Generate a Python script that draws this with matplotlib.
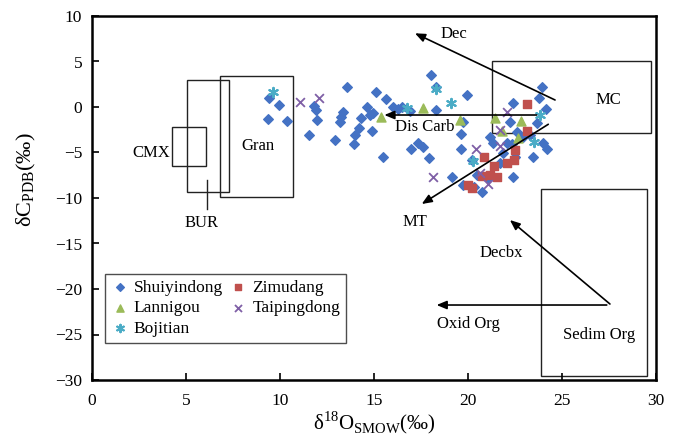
import matplotlib
matplotlib.use("Agg")
import matplotlib.pyplot as plt
from matplotlib.patches import Rectangle

plt.rcParams["font.family"] = ["Liberation Serif", "DejaVu Serif"]
plt.rcParams["mathtext.fontset"] = "custom"
plt.rcParams["mathtext.rm"] = "Liberation Serif"

# --- data (d18O SMOW, d13C PDB) ---
shui_x = [9.41, 9.96, 9.38, 10.36, 11.54, 11.81, 11.90, 11.98, 13.59, 13.34, 13.24, 13.19,
          12.93, 14.31, 14.22, 13.99, 13.94, 14.64, 14.79, 14.96, 14.88, 15.09, 15.64, 15.49,
          16.03, 16.47, 18.02, 18.28, 19.96, 18.30, 19.75, 19.63, 19.63, 16.97, 17.36, 17.59,
          17.94, 19.13, 19.75, 20.32, 20.73, 23.95, 23.79, 24.13, 23.65, 24.01, 24.19, 23.47,
          22.38, 22.23, 22.59, 22.94, 23.30, 22.32, 22.50, 22.38, 22.06, 21.85, 21.70, 21.35,
          21.17, 20.20, 20.46, 21.08, 16.30, 16.90]
shui_y = [0.96, 0.22, -1.29, -1.57, -3.13, 0.16, -0.33, -1.43, 2.16, -0.52, -1.07, -1.62,
          -3.63, -1.24, -2.34, -3.08, -4.12, 0.03, -0.88, -0.69, -2.60, 1.62, 0.88, -5.46,
          0.03, 0.03, 3.52, 2.23, 1.32, -0.33, -1.62, -2.97, -4.65, -4.65, -3.92, -4.43,
          -5.64, -7.66, -8.57, -8.76, -9.31, 2.16, 0.96, -0.25, -1.79, -3.92, -4.65, -5.53,
          0.47, -1.62, -2.71, -3.33, -3.08, -4.07, -5.46, -7.66, -3.92, -5.02, -6.19, -3.99,
          -3.26, -5.82, -7.47, -7.84, -0.20, -0.40]

zimu_x = [23.12, 23.15, 22.50, 22.46, 22.06, 21.40, 20.87, 21.17, 21.53, 20.73, 20.02, 20.20]
zimu_y = [0.30, -2.60, -4.73, -5.82, -6.19, -6.48, -5.53, -7.47, -7.66, -7.58, -8.57, -8.93]

lanni_x = [15.37, 17.59, 19.57, 21.44, 22.80, 21.79, 22.68]
lanni_y = [-1.13, -0.14, -1.43, -1.24, -1.51, -2.60, -3.44]

boji_x = [9.64, 16.77, 18.28, 19.08, 23.83, 23.51, 20.28]
boji_y = [1.68, -0.14, 1.95, 0.41, -0.88, -3.81, -5.90]

taip_x = [11.06, 12.07, 22.09, 21.70, 21.70, 20.43, 20.64, 21.08, 18.15]
taip_y = [0.52, 0.96, -0.52, -2.53, -4.29, -4.65, -7.29, -8.46, -7.73]

# field boxes: name, x0, x1, y0, y1
boxes = [
    ("CMX", 4.27, 6.05, -6.45, -2.16),
    ("BUR", 5.04, 7.30, -9.37, 2.97),
    ("Gran", 6.81, 10.71, -9.86, 3.44),
    ("MC", 21.28, 29.72, -2.89, 5.05),
    ("Sedim Org", 23.87, 29.54, -29.56, -9.01),
]

# text labels: text, x, y
labels = [
    ("CMX", 3.14, -5.09), ("BUR", 5.83, -12.7), ("Gran", 8.81, -4.25),
    ("Dec", 19.26, 8.02), ("MC", 27.48, 0.77), ("Dis Carb", 17.68, -2.23),
    ("MT", 17.18, -12.6), ("Decbx", 21.76, -16.0), ("Oxid Org", 20.0, -23.8),
    ("Sedim Org", 27.0, -25.05),
]

# arrows: (tail x, tail y, head x, head y)
arrows = [
    (24.63, 0.77, 17.18, 8.10),
    (23.65, -0.88, 15.55, -0.88),
    (24.27, -1.90, 17.54, -10.66),
    (27.55, -21.65, 22.23, -12.42),
    (27.38, -21.76, 18.33, -21.76),
]

bur_pointer = ([6.1, 6.1], [-8.05, -11.24])

fig = plt.figure(figsize=(6.82, 4.36), dpi=100)
ax = fig.add_axes([92 / 682, 56 / 436, 564 / 682, 364 / 436])

for name, x0, x1, y0, y1 in boxes:
    ax.add_patch(Rectangle((x0, y0), x1 - x0, y1 - y0, fill=False,
                           edgecolor="#222222", linewidth=1.0, zorder=1))
ax.plot(*bur_pointer, color="#222222", linewidth=1.0)

for tx, ty, hx, hy in arrows:
    ax.annotate("", xy=(hx, hy), xytext=(tx, ty),
                arrowprops=dict(arrowstyle="-|>,head_length=0.6,head_width=0.25",
                                color="black", linewidth=1.2, shrinkA=0, shrinkB=0),
                zorder=4)

for text, x, y in labels:
    ax.text(x, y, text, ha="center", va="center", fontsize=12, zorder=5)

ax.scatter(shui_x, shui_y, marker="D", s=24, color="#4472C4", label="Shuiyindong", zorder=3)
ax.scatter(lanni_x, lanni_y, marker="^", s=42, color="#9BBB59", label="Lannigou", zorder=3)
ax.scatter(boji_x, boji_y, marker=(6, 2, 0), s=45, color="#4BACC6", linewidths=1.5,
           label="Bojitian", zorder=3)
ax.scatter(zimu_x, zimu_y, marker="s", s=26, color="#C0504D", label="Zimudang", zorder=3)
ax.scatter(taip_x, taip_y, marker="x", s=40, color="#7F5FA6", linewidths=1.3,
           label="Taipingdong", zorder=3)

ax.set_xlim(0, 30)
ax.set_ylim(-30, 10)
ax.set_xticks(range(0, 31, 5))
ax.set_yticks(range(-30, 11, 5))
ax.tick_params(direction="in", length=5, width=1.2, labelsize=12.5)
ax.tick_params(axis="x", pad=9)
ax.tick_params(axis="y", pad=7)
for sp in ax.spines.values():
    sp.set_linewidth(1.8)

ax.set_xlabel("δ$^{18}$O$_{\\mathrm{SMOW}}$(‰)", fontsize=15)
ax.xaxis.set_label_coords(0.5, -0.082)
ax.set_ylabel("δC$_{\\mathrm{PDB}}$(‰)", fontsize=16)
ax.yaxis.set_label_coords(-0.095, 0.55)

leg = ax.legend(loc="lower left", bbox_to_anchor=(0.023, 0.102), ncol=2,
                fontsize=12.5, frameon=True, fancybox=False, handletextpad=0.3,
                columnspacing=0.4, labelspacing=0.25, borderpad=0.35,
                borderaxespad=0, markerscale=0.8, handlelength=1.0)
leg.get_frame().set_edgecolor("#222222")
leg.get_frame().set_linewidth(1.0)

fig.savefig("out.png", dpi=100)
